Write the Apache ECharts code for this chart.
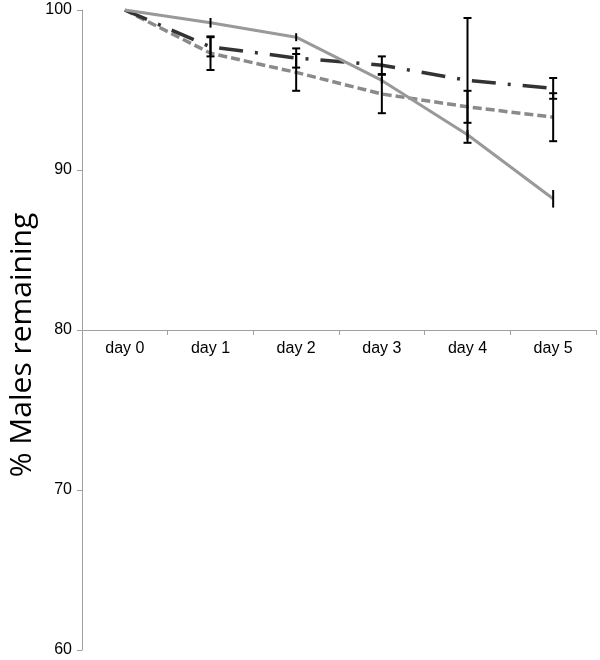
<!DOCTYPE html>
<html>
<head>
<meta charset="utf-8">
<script src="https://cdn.jsdelivr.net/npm/echarts@6/dist/echarts.min.js"></script>
<style>
html,body{margin:0;padding:0;background:#fff;}
#chart{width:600px;height:660px;}
</style>
</head>
<body>
<div id="chart"></div>
<script>
const categories = ['day 0', 'day 1', 'day 2', 'day 3', 'day 4', 'day 5'];
const solidValues = [100, 99.2, 98.3, 95.6, 92.2, 88.2];
const solidErr = [0, 0.3, 0.25, 0.2, 0.3, 0.55];
const dashDotValues = [100, 97.7, 97.0, 96.55, 95.6, 95.1];
const dashDotErr = [0, 0.6, 0.6, 0.55, 3.9, 0.65];
const dashedValues = [100, 97.3, 96.1, 94.75, 93.95, 93.3];
const dashedErr = [0, 1.05, 1.15, 1.2, 1.0, 1.5];
const yTicks = [60, 70, 80, 90, 100];
const yTitle = '% Males remaining';

function errData(vals, errs) {
  return vals.map((v, i) => [i, v - errs[i], v + errs[i], errs[i]]);
}
function errSeries(vals, errs, cap) {
  return {
    type: 'custom',
    data: errData(vals, errs),
    z: 10,
    renderItem: function (params, api) {
      if (api.value(3) === 0) return null;
      const lo = api.coord([api.value(0), api.value(1)]);
      const hi = api.coord([api.value(0), api.value(2)]);
      const st = { stroke: '#000', lineWidth: 2 };
      const children = [{ type: 'line', shape: { x1: lo[0], y1: lo[1], x2: hi[0], y2: hi[1] }, style: st }];
      if (cap > 0) {
        children.push({ type: 'line', shape: { x1: lo[0] - cap, y1: lo[1], x2: lo[0] + cap, y2: lo[1] }, style: st });
        children.push({ type: 'line', shape: { x1: hi[0] - cap, y1: hi[1], x2: hi[0] + cap, y2: hi[1] }, style: st });
      }
      return { type: 'group', children: children };
    }
  };
}

const chart = echarts.init(document.getElementById('chart'));
chart.setOption({
  animation: false,
  backgroundColor: '#fff',
  grid: { left: 82, right: 4, top: 10, bottom: 10, containLabel: false },
  graphic: [{
    type: 'text',
    x: 22, y: 345,
    rotation: Math.PI / 2,
    style: {
      text: yTitle,
      fill: '#000',
      font: '30px "Open Sans", "Noto Sans", sans-serif',
      textAlign: 'center',
      textVerticalAlign: 'middle'
    }
  }],
  xAxis: {
    type: 'category',
    data: categories,
    boundaryGap: true,
    offset: -320,
    axisLine: { lineStyle: { color: '#a0a0a0', width: 1 } },
    axisTick: { show: true, length: 5, lineStyle: { color: '#a0a0a0' } },
    axisLabel: { color: '#000', fontSize: 16, fontFamily: 'Liberation Sans, Arial', margin: 11 },
    splitLine: { show: false }
  },
  yAxis: {
    type: 'value',
    min: yTicks[0],
    max: yTicks[yTicks.length - 1],
    interval: 10,
    axisLine: { show: true, lineStyle: { color: '#a0a0a0', width: 1 } },
    axisTick: { show: true, length: 5, lineStyle: { color: '#a0a0a0' } },
    axisLabel: { color: '#000', fontSize: 16, fontFamily: 'Liberation Sans, Arial', margin: 10 },
    splitLine: { show: false }
  },
  series: [
    {
      type: 'line', data: dashedValues, symbol: 'none', z: 3,
      lineStyle: { color: '#8a8a8a', width: 3.5, type: [9, 4] }
    },
    {
      type: 'line', data: dashDotValues, symbol: 'none', z: 4,
      lineStyle: { color: '#333333', width: 3.5, type: [24, 12, 3, 12] }
    },
    {
      type: 'line', data: solidValues, symbol: 'none', z: 5,
      lineStyle: { color: '#999999', width: 3 }
    },
    errSeries(dashedValues, dashedErr, 4),
    errSeries(dashDotValues, dashDotErr, 4),
    errSeries(solidValues, solidErr, 0)
  ]
});
</script>
</body>
</html>
